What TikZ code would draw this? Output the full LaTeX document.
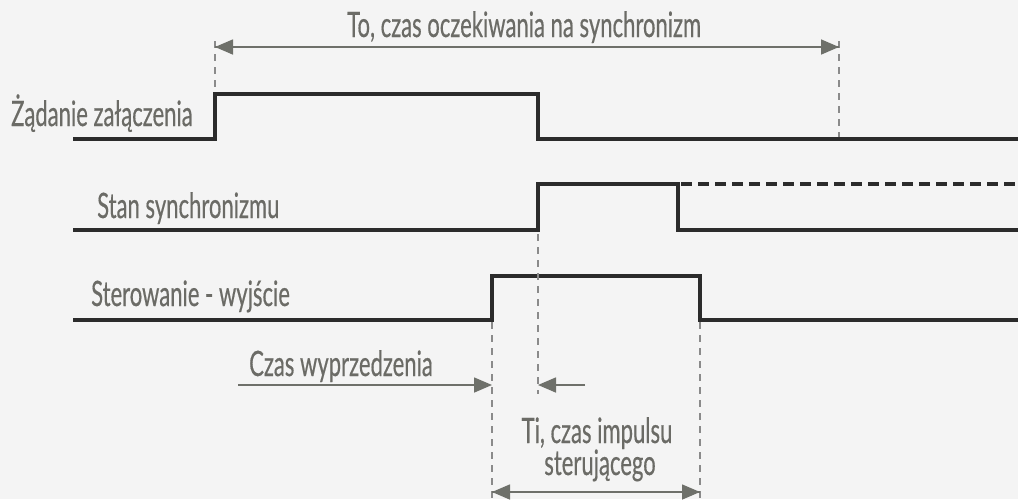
\documentclass[tikz,border=0pt]{standalone}
\usepackage{fontspec}
\setmainfont[FakeStretch=0.63,FakeBold=0.4]{Lato}
\usetikzlibrary{arrows.meta}
\definecolor{bgc}{HTML}{F4F4F4}
\definecolor{sigc}{HTML}{2B2B2B}
\definecolor{txtc}{HTML}{6B6B66}
\definecolor{arrc}{HTML}{6E706A}
\definecolor{dashc}{HTML}{8A8A8A}
\begin{document}
\begin{tikzpicture}[x=1pt,y=-1pt,
  signal/.style={draw=sigc,line width=4.6pt,line join=miter,line cap=rect},
  sigdash/.style={draw=sigc,line width=4.6pt,dash pattern=on 11pt off 6pt},
  guide/.style={draw=dashc,line width=1.3pt,dash pattern=on 7pt off 6pt},
  dimline/.style={draw=arrc,line width=1.6pt},
  tip/.style={-{Triangle[length=18pt,width=15pt,fill=arrc]}},
  label/.style={text=txtc,font=\fontsize{35}{37}\selectfont,inner sep=0pt},
]
\fill[bgc] (0,0) rectangle (1018,499);
\useasboundingbox (0,0) rectangle (1018,499);

% key time points
\coordinate (t0a) at (215,47);  \coordinate (t0b) at (839,47);
% Signal 1
\draw[signal] (75,139) -- (215,139) -- (215,94) -- (538,94) -- (538,139) -- (1020,139);
% Signal 2
\draw[signal] (75,230) -- (538,230) -- (538,184) -- (678,184) -- (678,230) -- (1020,230);
\draw[sigdash] (681,184) -- (1018,184);
% Signal 3
\draw[signal] (75,320) -- (492,320) -- (492,276) -- (700,276) -- (700,320) -- (1020,320);

% guides
\coordinate (g1a) at (215,41); \coordinate (g1b) at (215,92);
\coordinate (g2a) at (839,41); \coordinate (g2b) at (839,137);
\coordinate (g3a) at (492,322); \coordinate (g3b) at (492,499);
\coordinate (g4a) at (538,234); \coordinate (g4b) at (538,394);
\coordinate (g5a) at (700,322); \coordinate (g5b) at (700,499);
\draw[guide] (g1a) -- (g1b);
\draw[guide] (g2a) -- (g2b);
\draw[guide] (g3a) -- (g3b);
\draw[guide] (g4a) -- (g4b);
\draw[guide] (g5a) -- (g5b);

% top dimension
\draw[dimline,tip] (t0a) -- (t0b);
\draw[dimline,tip] (t0b) -- (t0a);
% lead time
\coordinate (w1) at (238,385); \coordinate (w2) at (492,385);
\coordinate (w3) at (585,385); \coordinate (w4) at (538,385);
\draw[dimline,tip] (w1) -- (w2);
\draw[dimline,tip] (w3) -- (w4);
% pulse
\coordinate (p1) at (492,492); \coordinate (p2) at (700,492);
\draw[dimline,tip] (p1) -- (p2);
\draw[dimline,tip] (p2) -- (p1);

% labels
\node[label,anchor=base west] (l1) at (11,126) {Żądanie załączenia};
\node[label,anchor=base west] (l2) at (97,218) {Stan synchronizmu};
\node[label,anchor=base west] (l3) at (91,306) {Sterowanie - wyjście};
\node[label,anchor=base west] (l4) at (347,37) {To, czas oczekiwania na synchronizm};
\node[label,anchor=base west] (l5) at (249,376) {Czas wyprzedzenia};
\node[label,anchor=base] (l6) at (597,443) {Ti, czas impulsu};
\node[label,anchor=base] (l7) at (600,475) {sterującego};
\end{tikzpicture}
\end{document}
